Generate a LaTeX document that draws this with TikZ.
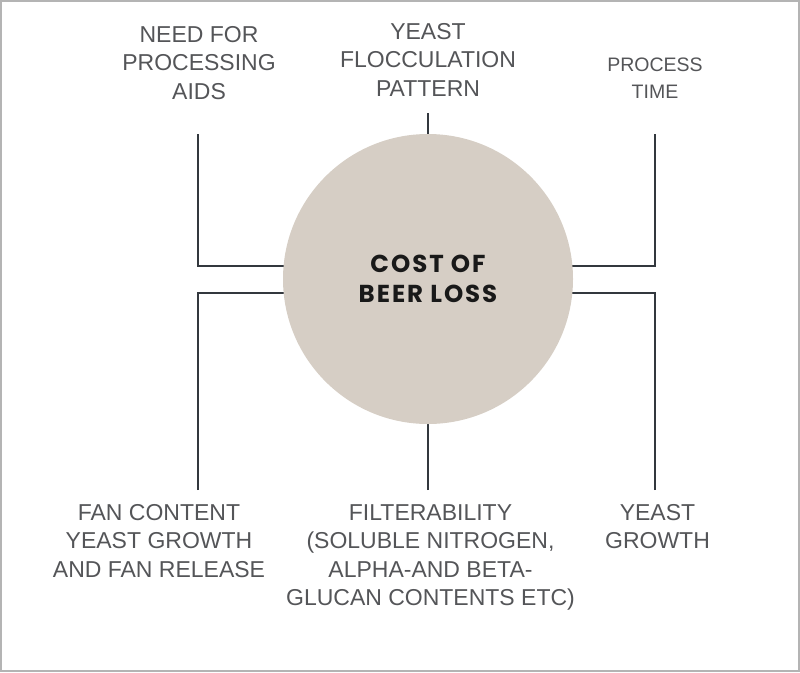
\documentclass[tikz,border=0pt]{standalone}
\usepackage{fontspec}
\usetikzlibrary{calc}
\setmainfont{Liberation Sans}
\newfontfamily\popfont{Poppins}[LetterSpace=8]
\definecolor{circfill}{HTML}{D6CEC5}
\definecolor{labelgray}{HTML}{545558}
\definecolor{linecol}{HTML}{33383E}
\definecolor{framecol}{HTML}{B4B4B4}
\begin{document}
\begin{tikzpicture}[x=1pt,y=-1pt,
  lbl/.style={anchor=north,inner sep=0pt,align=center,text=labelgray,
    font=\fontsize{23}{28.5}\selectfont},
  smalllbl/.style={lbl,font=\fontsize{19.5}{27}\selectfont},
  conn/.style={draw=linecol,line width=1.8pt},
  hub/.style={circle,fill=circfill,minimum size=290pt,inner sep=0pt,align=center,
    font=\popfont\bfseries\fontsize{24.5}{30}\selectfont,text=black!90}]
\useasboundingbox (0,0) rectangle (800,672);
\draw[framecol,line width=2pt] (1,1) rectangle (799,671);
% labels
\node[lbl] (need) at (199,26) {NEED FOR\\PROCESSING\\AIDS};
\node[lbl] (floc) at (428,23) {YEAST\\FLOCCULATION\\PATTERN};
\node[smalllbl] (ptime) at (655,58) {PROCESS\\TIME};
\node[lbl] (fan) at (159,504) {FAN CONTENT\\YEAST GROWTH\\AND FAN RELEASE};
\node[lbl] (filt) at (430.5,504) {FILTERABILITY\\(SOLUBLE NITROGEN,\\ALPHA-AND BETA-\\GLUCAN CONTENTS ETC)};
\node[lbl] (ygr) at (657.5,504) {YEAST\\GROWTH};
% connector end points
\coordinate (c) at (428,279);
\coordinate (needE) at (198,134);
\coordinate (flocE) at (428,113);
\coordinate (ptimeE) at (655,134);
\coordinate (fanE) at (198,490);
\coordinate (filtE) at (428,490);
\coordinate (ygrE) at (655,490);
% connectors (drawn under the hub)
\draw[conn] (needE) |- ($(c)+(0,-13)$);
\draw[conn] (ptimeE) |- ($(c)+(0,-13)$);
\draw[conn] (fanE) |- ($(c)+(0,14)$);
\draw[conn] (ygrE) |- ($(c)+(0,14)$);
\draw[conn] (flocE) -- (c);
\draw[conn] (filtE) -- (c);
% hub
\node[hub] (hubnode) at (c) {COST OF\\BEER LOSS};
\end{tikzpicture}
\end{document}
